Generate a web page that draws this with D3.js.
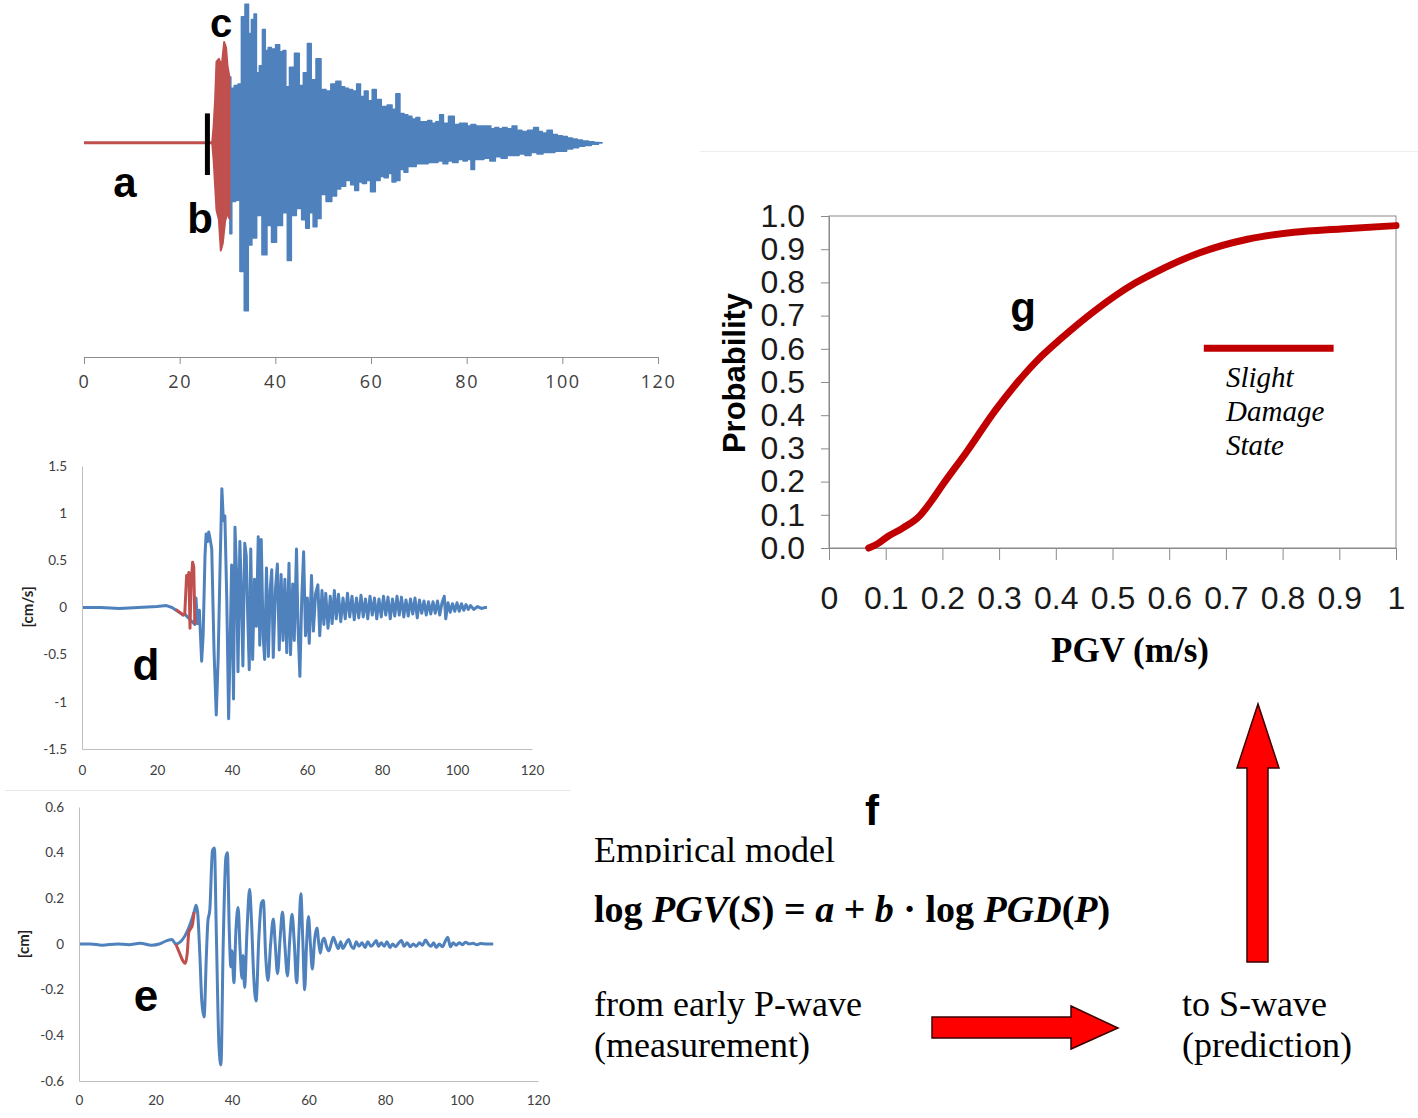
<!DOCTYPE html>
<html><head><meta charset="utf-8">
<script src="https://cdn.jsdelivr.net/npm/d3@7"></script>
<style>body{margin:0;background:#fff}svg{display:block}</style>
</head><body><svg id="c" width="1418" height="1118"></svg>
<script>
// ---------- DATA ----------
const timeTicks = [0, 20, 40, 60, 80, 100, 120];

// (a) acceleration record: envelope values (normalised amplitude)
const accPreEvent = [[0, 0], [27.0, 0]];
const accRedUpper = [[26.8,0.0],[27.1,0.12],[27.4,0.3],[27.7,0.58],[28.2,0.60],[28.8,0.55],[29.3,0.72],[29.7,0.68],[30.0,0.55],[30.4,0.47]];
const accRedLower = [[26.8,0.0],[27.1,-0.12],[27.4,-0.3],[27.7,-0.48],[28.2,-0.55],[28.6,-0.77],[29.0,-0.72],[29.5,-0.56],[30.0,-0.50],[30.4,-0.54]];
const accBlueUpper = [[30.4,0.47],[31.0,0.39],[31.8,0.41],[32.6,0.42],[33.2,0.90],[34.1,0.99],[34.7,0.78],[35.3,0.88],[35.8,0.92],[36.3,0.50],[37.0,0.55],[37.6,0.81],[38.2,0.66],[38.8,0.68],[39.6,0.67],[40.5,0.70],[41.3,0.65],[41.9,0.66],[42.5,0.40],[43.4,0.54],[44.6,0.64],[45.4,0.41],[46.3,0.50],[47.1,0.71],[47.9,0.45],[49.1,0.60],[50.0,0.38],[51.2,0.37],[52.0,0.42],[53.3,0.44],[54.1,0.40],[54.9,0.39],[55.7,0.38],[56.6,0.37],[57.4,0.42],[58.2,0.33],[59.0,0.37],[59.8,0.30],[60.7,0.38],[61.5,0.31],[62.8,0.26],[64.0,0.27],[64.8,0.24],[65.6,0.35],[66.5,0.21],[67.3,0.20],[68.1,0.19],[69.0,0.17],[69.8,0.18],[70.6,0.15],[71.4,0.15],[72.3,0.16],[73.1,0.14],[74.0,0.15],[74.7,0.20],[75.6,0.14],[76.8,0.19],[78.0,0.13],[79.0,0.14],[79.7,0.14],[80.5,0.12],[81.3,0.13],[82.5,0.12],[83.8,0.12],[84.6,0.12],[85.5,0.10],[86.3,0.11],[87.1,0.10],[87.9,0.11],[89.0,0.10],[90.0,0.12],[91.0,0.09],[92.1,0.08],[93.4,0.09],[94.6,0.11],[95.4,0.08],[96.2,0.07],[97.4,0.09],[98.4,0.06],[99.5,0.05],[100.5,0.045],[101.6,0.035],[102.6,0.028],[103.6,0.02],[104.8,0.013],[106.1,0.007],[107.2,0.003],[108.3,0]];
const accBlueLower = [[30.4,-0.54],[30.6,-0.65],[31.2,-0.42],[32.2,-0.41],[33.0,-0.92],[34.0,-1.20],[34.7,-0.73],[35.5,-0.68],[36.7,-0.52],[37.7,-0.80],[38.8,-0.59],[39.6,-0.71],[40.9,-0.59],[42.1,-0.50],[42.9,-0.84],[43.8,-0.52],[45.0,-0.47],[46.0,-0.55],[46.7,-0.61],[47.5,-0.50],[48.3,-0.60],[49.1,-0.54],[50.0,-0.37],[51.2,-0.42],[52.4,-0.38],[53.2,-0.33],[54.1,-0.31],[55.3,-0.27],[56.2,-0.30],[57.0,-0.34],[57.8,-0.28],[58.6,-0.29],[59.5,-0.27],[60.3,-0.35],[61.5,-0.27],[62.3,-0.24],[63.2,-0.25],[64.0,-0.22],[64.8,-0.28],[65.6,-0.27],[66.5,-0.19],[67.3,-0.21],[68.1,-0.17],[68.9,-0.17],[70.0,-0.15],[71.4,-0.15],[72.5,-0.14],[73.5,-0.14],[74.5,-0.13],[75.6,-0.15],[76.5,-0.13],[77.6,-0.14],[78.8,-0.12],[79.7,-0.13],[80.5,-0.12],[81.3,-0.19],[82.0,-0.12],[83.0,-0.12],[84.2,-0.11],[85.5,-0.13],[86.5,-0.10],[87.9,-0.11],[89.0,-0.09],[90.4,-0.09],[91.5,-0.08],[92.9,-0.09],[94.0,-0.07],[95.4,-0.08],[96.5,-0.07],[97.9,-0.07],[99.0,-0.06],[100.3,-0.06],[101.5,-0.045],[102.8,-0.035],[104.0,-0.025],[105.3,-0.02],[106.8,-0.01],[108.3,0]];
const pickMarker = [25.8, 0.21, -0.23]; // time, top, bottom

// (d) velocity [cm/s]
const velTicks = [-1.5, -1, -0.5, 0, 0.5, 1, 1.5];
const velBlue = [[0,0],[5,0.0],[10,-0.01],[15,0.0],[20,0.01],[22.5,0.02],[24,0.0],[25.5,-0.04],[27,-0.08],[27.4,-0.07],
 [30.1,-0.18],[30.4,0.10],[30.8,-0.17],[31.3,-0.03],[31.9,-0.57],[32.3,-0.30],[32.8,0.55],[33.1,0.78],[33.5,0.70],[33.8,0.80],[34.1,0.74],[34.6,0.62],[35.2,-0.45],[35.8,-1.14],[36.3,-0.55],[36.8,0.40],[37.3,1.26],[37.7,0.92],[38.1,0.97],[38.6,0.10],[39.1,-1.18],[39.5,-0.40],[39.9,0.45],[40.4,-0.97],[40.8,0.85],[41.2,0.38],[41.6,-0.68],[42.1,0.70],[42.4,0.30],[42.9,-0.62],[43.4,0.68],[43.8,0.55],[44.2,-0.10],[44.6,-0.66],[45.0,0.62],[45.5,-0.55],[46.0,0.30],[46.5,-0.20],[47.0,0.75],[47.4,-0.40],[47.8,0.72],[48.3,-0.30],[48.7,-0.55],[49.2,0.42],[49.7,-0.52],[50.2,0.20],[50.6,0.40],[51.0,-0.53],[51.6,0.20],[52.1,0.46],[52.6,-0.45],[53.1,0.35],[53.6,-0.35],[54.1,0.30],[54.6,-0.48],[55.2,0.47],[55.6,-0.50],[56.2,0.25],[56.6,-0.35],[57.2,0.62],[57.6,-0.20],[58.1,-0.73],[58.6,0.10],[59.1,0.59],[59.6,-0.30],[60.1,0.10],[60.6,-0.38],[61.2,0.34],[61.7,-0.25],[62.3,0.15],[62.9,0.24],[63.4,-0.30],[64.0,0.18],[64.5,-0.18],[65.0,0.15],[65.6,-0.22],[66.2,0.12],[66.7,-0.17],[67.3,0.18],[67.8,-0.12],[68.4,0.14],[69.0,-0.15],[69.6,0.10],[70.2,-0.12],[70.8,0.15],[71.4,-0.10],[72.0,0.12],[72.6,-0.13],[73.2,0.10],[73.8,-0.11],[74.4,0.13],[75.0,-0.10],[75.6,0.09],[76.2,-0.12],[76.8,0.12],[77.4,-0.08],[78.0,0.10],[78.6,-0.12],[79.2,0.09],[79.8,-0.10],[80.4,0.12],[81.0,-0.08],[81.6,0.11],[82.2,-0.12],[82.8,0.09],[83.4,-0.09],[84.0,0.12],[84.6,-0.08],[85.2,0.11],[85.8,-0.10],[86.4,0.08],[87.0,-0.09],[87.6,0.09],[88.2,-0.07],[88.8,0.10],[89.4,-0.11],[90.0,0.08],[90.6,-0.06],[91.2,0.07],[91.8,-0.08],[92.4,0.06],[93.0,-0.07],[93.6,0.06],[94.2,-0.06],[94.8,0.07],[95.4,-0.08],[96.0,0.05],[96.6,0.12],[97.0,-0.12],[97.6,0.05],[98.2,-0.05],[98.8,0.04],[99.4,-0.04],[100.0,0.05],[100.6,-0.04],[101.2,0.04],[101.8,-0.03],[102.4,0.03],[103.0,-0.02],[103.6,0.02],[104.5,-0.02],[105.5,0.01],[106.5,-0.01],[107.5,0.0],[108.0,0.0]];
const velRed = [[25.0,-0.02],[26.0,-0.05],[27.0,-0.08],[27.4,-0.07],[27.9,0.34],[28.2,0.30],[28.5,0.37],[28.8,-0.22],[29.1,0.25],[29.5,0.48],[29.8,0.43],[30.1,-0.18]];

// (e) displacement [cm]
const dispTicks = [-0.6, -0.4, -0.2, 0, 0.2, 0.4, 0.6];
const dispBlue = [[0,0],[3,0.0],[6,-0.005],[10,0.0],[13,-0.003],[16,0.003],[19,-0.005],[21,0.0],[23,0.015],[24.3,0.02],[25.3,0.0],
 [30.1,0.14],[30.6,0.17],[31.0,0.14],[31.6,-0.05],[32.1,-0.25],[32.7,-0.32],[33.3,-0.05],[33.7,0.10],[34.2,0.15],[34.9,0.41],[35.4,0.42],[35.9,0.05],[36.6,-0.45],[37.1,-0.53],[37.7,0.0],[38.4,0.38],[38.8,0.40],[39.3,0.05],[39.7,-0.10],[40.0,-0.03],[40.5,-0.17],[41.0,0.05],[41.6,0.16],[42.1,-0.02],[42.6,-0.15],[42.9,-0.05],[43.3,-0.19],[43.9,0.05],[44.6,0.24],[45.1,0.10],[45.7,-0.15],[46.3,-0.25],[47.0,0.02],[47.7,0.18],[48.2,0.19],[48.8,-0.05],[49.4,-0.16],[50.1,0.0],[50.8,0.11],[51.3,0.0],[51.9,-0.13],[52.6,0.03],[53.2,0.14],[53.8,0.0],[54.5,-0.14],[55.1,0.02],[55.7,0.13],[56.3,0.0],[56.9,-0.17],[57.5,0.05],[58.0,0.22],[58.5,0.02],[59.0,-0.20],[59.5,0.0],[60.0,0.12],[60.5,0.0],[61.0,-0.11],[61.6,0.02],[62.2,0.07],[62.7,0.0],[63.1,-0.04],[63.6,0.01],[64.1,0.025],[64.7,-0.01],[65.3,-0.03],[65.9,0.0],[66.5,0.03],[67.2,0.0],[67.8,-0.02],[68.4,0.01],[69.0,-0.02],[69.7,0.0],[70.5,0.02],[71.2,-0.01],[71.8,-0.02],[72.5,0.01],[73.2,-0.01],[74.0,0.005],[74.8,-0.015],[75.5,0.01],[76.3,-0.01],[77.0,0.0],[77.7,0.015],[78.3,-0.01],[79.0,0.005],[79.8,-0.01],[80.5,0.01],[81.3,-0.015],[82.0,0.0],[82.8,-0.012],[83.6,0.005],[84.3,0.015],[85.0,-0.01],[85.8,0.005],[86.6,-0.012],[87.4,0.0],[88.2,-0.01],[89.0,0.005],[89.8,-0.005],[90.6,0.017],[91.3,0.0],[92.0,-0.01],[92.7,0.005],[93.4,-0.015],[94.2,0.0],[95.0,-0.012],[95.7,0.01],[96.4,0.03],[97.1,-0.012],[97.8,0.005],[98.6,-0.005],[99.4,0.005],[100.3,-0.003],[101.0,0.008],[102,0.0],[103,0.003],[104,-0.003],[105,0.002],[106.5,0.0],[108.3,0.0]];
const dispRed = [[25.3,0.0],[26.3,-0.04],[27.2,-0.075],[27.8,-0.085],[28.3,-0.04],[28.7,0.05],[29.3,0.07],[29.6,0.08],[30.1,0.14]];

// (g) fragility curve
const pgvTicks = [0, 0.1, 0.2, 0.3, 0.4, 0.5, 0.6, 0.7, 0.8, 0.9, 1];
const pgvTickLabels = ["0","0.1","0.2","0.3","0.4","0.5","0.6","0.7","0.8","0.9","1"];
const probTicks = [0, 0.1, 0.2, 0.3, 0.4, 0.5, 0.6, 0.7, 0.8, 0.9, 1.0];
const fragilityCurve = [[0.07,0.0],[0.085,0.012],[0.103,0.034],[0.13,0.06],[0.16,0.097],[0.18,0.14],[0.202,0.194],[0.243,0.29],[0.293,0.414],[0.326,0.486],[0.375,0.578],[0.408,0.629],[0.466,0.711],[0.54,0.798],[0.573,0.828],[0.655,0.89],[0.738,0.93],[0.82,0.951],[0.903,0.961],[1.0,0.971]];
const legendLine = [[0.661,0.602],[0.89,0.602]];
const legendText = ["Slight", "Damage", "State"];

// ---------- DRAW ----------
const svg = d3.select("#c");
svg.append("rect").attr("width",1418).attr("height",1118).attr("fill","#fff");
const BLUE = "#4f81bd", RED = "#c0504d";

// faint panel borders
svg.append("line").attr("x1",5).attr("x2",570).attr("y1",790.5).attr("y2",790.5).attr("stroke","#e6e6e6");
svg.append("line").attr("x1",700).attr("x2",1418).attr("y1",151.5).attr("y2",151.5).attr("stroke","#eeeeee");

function label(txt,x,y,size){
  svg.append("text").attr("x",x).attr("y",y).attr("text-anchor","middle")
    .attr("font-family","'Liberation Sans',Arial,sans-serif").attr("font-weight","bold")
    .attr("font-size",size).text(txt);
}

// ---- panel a ----
const xA = d3.scaleLinear().domain([0,120]).range([84,658]);
const yA = d3.scaleLinear().domain([-1.53,1.02]).range([357,0]);
const gA = svg.append("g");
const areaBlue = d3.area().x(d=>xA(d[0])).y0(yA(0)).y1(d=>yA(d[1])).curve(d3.curveStep);
const areaRed = d3.area().x(d=>xA(d[0])).y0(yA(0)).y1(d=>yA(d[1]));
[accBlueUpper, accBlueLower].forEach(arr=>{
  gA.append("path").attr("d",areaBlue(arr)).attr("fill",BLUE).attr("stroke",BLUE).attr("stroke-width",1.5).attr("stroke-linejoin","round");
});
[accRedUpper, accRedLower].forEach(arr=>{
  gA.append("path").attr("d",areaRed(arr)).attr("fill",RED).attr("stroke",RED).attr("stroke-width",2).attr("stroke-linejoin","round");
});
gA.append("path").attr("d",d3.line().x(d=>xA(d[0])).y(d=>yA(d[1]))(accPreEvent)).attr("stroke",RED).attr("stroke-width",3).attr("fill","none");
gA.append("line").attr("x1",xA(pickMarker[0])).attr("x2",xA(pickMarker[0]))
  .attr("y1",yA(pickMarker[1])).attr("y2",yA(pickMarker[2])).attr("stroke","#000").attr("stroke-width",5);
const axA = gA.append("g").attr("transform","translate(0,357)")
  .call(d3.axisBottom(xA).tickValues(timeTicks).tickSize(7).tickPadding(11).tickFormat(d3.format("d")));
axA.selectAll("path,line").attr("stroke","#8c8c8c");
axA.selectAll("text").attr("font-family","'Open Sans',sans-serif").attr("font-size",18).attr("letter-spacing","1.5px").attr("fill","#404040");
label("a",125,197,42); label("b",200,233,42); label("c",221,37,40);

// ---- panel d ----
const xD = d3.scaleLinear().domain([0,120]).range([82,532]);
const yD = d3.scaleLinear().domain([-1.5,1.5]).range([749,466]);
const gD = svg.append("g");
const lineD = d3.line().x(d=>xD(d[0])).y(d=>yD(d[1]));
gD.append("path").attr("d",lineD(velBlue)).attr("fill","none").attr("stroke",BLUE).attr("stroke-width",3).attr("stroke-linejoin","round");
gD.append("path").attr("d",lineD(velRed)).attr("fill","none").attr("stroke",RED).attr("stroke-width",3).attr("stroke-linejoin","round");
const axDx = gD.append("g").attr("transform","translate(0,749)")
  .call(d3.axisBottom(xD).tickValues(timeTicks).tickSize(0).tickSizeOuter(0).tickPadding(16).tickFormat(d3.format("d")));
const axDy = gD.append("g").attr("transform","translate(82,0)")
  .call(d3.axisLeft(yD).tickValues(velTicks).tickSize(0).tickSizeOuter(0).tickPadding(15).tickFormat(d=>String(d)));
[axDx,axDy].forEach(a=>{a.selectAll("path").attr("stroke","#bfbfbf");
  a.selectAll("text").attr("font-family","Lato,'Open Sans',sans-serif").attr("font-size",13.5).attr("fill","#404040");});
gD.append("text").attr("transform","translate(33,607) rotate(-90)").attr("text-anchor","middle")
  .attr("font-family","Lato,sans-serif").attr("font-weight","bold").attr("font-size",15).attr("fill","#222").text("[cm/s]");
label("d",146,680,44);

// ---- panel e ----
const xE = d3.scaleLinear().domain([0,120]).range([79,538]);
const yE = d3.scaleLinear().domain([-0.6,0.6]).range([1081,807]);
const gE = svg.append("g");
const lineE = d3.line().x(d=>xE(d[0])).y(d=>yE(d[1])).curve(d3.curveMonotoneX);
gE.append("path").attr("d",lineE(dispBlue)).attr("fill","none").attr("stroke",BLUE).attr("stroke-width",3).attr("stroke-linejoin","round");
gE.append("path").attr("d",lineE(dispRed)).attr("fill","none").attr("stroke",RED).attr("stroke-width",3).attr("stroke-linejoin","round");
const axEx = gE.append("g").attr("transform","translate(0,1081)")
  .call(d3.axisBottom(xE).tickValues(timeTicks).tickSize(0).tickSizeOuter(0).tickPadding(14).tickFormat(d3.format("d")));
const axEy = gE.append("g").attr("transform","translate(79,0)")
  .call(d3.axisLeft(yE).tickValues(dispTicks).tickSize(0).tickSizeOuter(0).tickPadding(15).tickFormat(d=>String(d)));
[axEx,axEy].forEach(a=>{a.selectAll("path").attr("stroke","#bfbfbf");
  a.selectAll("text").attr("font-family","Lato,'Open Sans',sans-serif").attr("font-size",13.5).attr("fill","#404040");});
gE.append("text").attr("transform","translate(29,944) rotate(-90)").attr("text-anchor","middle")
  .attr("font-family","Lato,sans-serif").attr("font-weight","bold").attr("font-size",15).attr("fill","#222").text("[cm]");
label("e",146,1011,44);

// ---- panel g ----
const xG = d3.scaleLinear().domain([0,1]).range([829,1396]);
const yG = d3.scaleLinear().domain([0,1]).range([548,216]);
const gG = svg.append("g");
gG.append("rect").attr("x",829).attr("y",216).attr("width",567).attr("height",332).attr("fill","none").attr("stroke","#8a8a8a").attr("stroke-width",1);
const axGx = gG.append("g").attr("transform","translate(0,548)")
  .call(d3.axisBottom(xG).tickValues(pgvTicks).tickSize(12).tickSizeOuter(0).tickPadding(26).tickFormat((d,i)=>pgvTickLabels[i]));
const axGy = gG.append("g").attr("transform","translate(829,0)")
  .call(d3.axisLeft(yG).tickValues(probTicks).tickSize(8).tickSizeOuter(0).tickPadding(16).tickFormat(d3.format(".1f")));
[axGx,axGy].forEach(a=>{a.selectAll("path,line").attr("stroke","#8a8a8a");
  a.selectAll("text").attr("font-family","'Liberation Sans',Arial,sans-serif").attr("font-size",32).attr("fill","#1a1a1a");});
gG.append("path").attr("d",d3.line().x(d=>xG(d[0])).y(d=>yG(d[1])).curve(d3.curveMonotoneX)(fragilityCurve))
  .attr("fill","none").attr("stroke","#c00000").attr("stroke-width",7).attr("stroke-linecap","round");
gG.append("path").attr("d",d3.line().x(d=>xG(d[0])).y(d=>yG(d[1]))(legendLine))
  .attr("fill","none").attr("stroke","#c00000").attr("stroke-width",7);
legendText.forEach((t,i)=>{
  gG.append("text").attr("x",1226).attr("y",387+i*34).attr("font-family","'Liberation Serif','Times New Roman',serif")
    .attr("font-style","italic").attr("font-size",29).text(t);
});
gG.append("text").attr("transform","translate(745,373) rotate(-90)").attr("text-anchor","middle")
  .attr("font-family","'Liberation Sans',Arial,sans-serif").attr("font-weight","bold").attr("font-size",31).text("Probability");
gG.append("text").attr("x",1130).attr("y",662).attr("text-anchor","middle")
  .attr("font-family","'Liberation Serif','Times New Roman',serif").attr("font-weight","bold").attr("font-size",35).text("PGV (m/s)");
label("g",1023,322,42);

// ---- panel f ----
label("f",872,825,42);
const serif = "'Liberation Serif','Times New Roman',serif";
svg.append("defs").append("clipPath").attr("id","clipEmp").append("rect").attr("x",580).attr("y",820).attr("width",300).attr("height",43);
svg.append("text").attr("x",594).attr("y",862).attr("font-family",serif).attr("font-size",36).attr("clip-path","url(#clipEmp)").text("Empirical model");
const eq = svg.append("text").attr("x",594).attr("y",922).attr("font-family",serif).attr("font-size",38).attr("font-weight","bold");
[["log ",false],["PGV",true],["(",false],["S",true],[") = ",false],["a",true],[" + ",false],["b",true],[" · log ",false],["PGD",true],["(",false],["P",true],[")",false]]
  .forEach(([t,it])=>eq.append("tspan").attr("font-style",it?"italic":"normal").text(t));
svg.append("text").attr("x",594).attr("y",1016).attr("font-family",serif).attr("font-size",36).text("from early P-wave");
svg.append("text").attr("x",594).attr("y",1057).attr("font-family",serif).attr("font-size",36).text("(measurement)");
svg.append("text").attr("x",1182).attr("y",1016).attr("font-family",serif).attr("font-size",36).text("to S-wave");
svg.append("text").attr("x",1182).attr("y",1057).attr("font-family",serif).attr("font-size",36).text("(prediction)");

// arrows
svg.append("polygon").attr("points","932,1017 1071,1017 1071,1006 1118,1028 1071,1049 1071,1038 932,1038")
  .attr("fill","#ff0000").attr("stroke","#3a0000").attr("stroke-width",1.5);
svg.append("polygon").attr("points","1247,962 1247,768 1237,768 1258,704 1279,768 1268,768 1268,962")
  .attr("fill","#ff0000").attr("stroke","#3a0000").attr("stroke-width",1.5);
</script></body></html>
